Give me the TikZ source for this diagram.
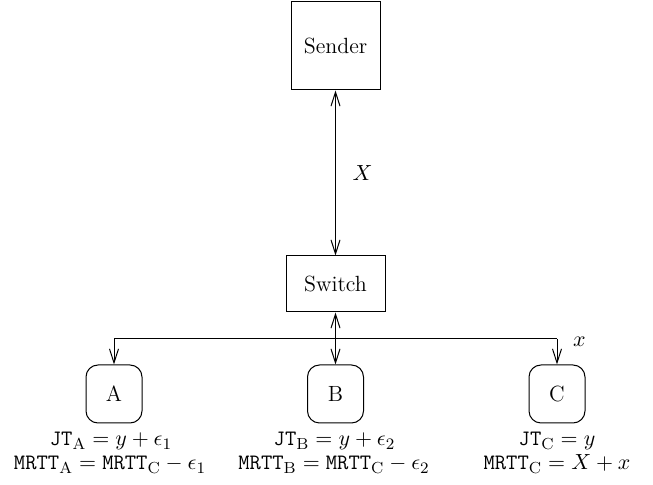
\documentclass[tikz,border=0pt]{standalone}
\usetikzlibrary{arrows.meta}
\begin{document}
\begin{tikzpicture}[x=0.5pt,y=-0.5pt,
  line width=0.5pt,
  font=\fontsize{11}{13}\selectfont,
  barb/.style={-{Straight Barb[length=7pt,width=4.5pt]}},
  dbarb/.style={{Straight Barb[length=7pt,width=4.5pt]}-{Straight Barb[length=7pt,width=4.5pt]}},
  squarebox/.style={draw,rectangle,minimum width=44.5pt,minimum height=44pt,inner sep=0pt},
  switchbox/.style={draw,rectangle,minimum width=49.5pt,minimum height=28pt,inner sep=0pt},
  hostbox/.style={draw,rectangle,rounded corners=6pt,minimum width=28pt,minimum height=29pt,inner sep=0pt},
  metrics/.style={anchor=base,inner sep=0pt}]
  \useasboundingbox (0,0) rectangle (653,485);

  % boxes
  \node[squarebox] (sender) at (335.5,46) {Sender};
  \node[switchbox] (switch) at (335.5,284) {Switch};
  \node[hostbox] (A) at (114,394) {A};
  \node[hostbox] (B) at (335.5,394) {B};
  \node[hostbox] (C) at (557,394) {C};

  % sender <-> switch
  \draw[dbarb] (sender.south) -- node[right=5pt] {$X$} (switch.north);

  % switch to hosts
  \coordinate (jun) at (335.5,339);
  \draw[dbarb] (switch.south) -- (B.north);
  \coordinate (ja) at (A.north |- jun);
  \coordinate (jc) at (C.north |- jun);
  \draw[barb] (ja) -- (A.north);
  \draw[barb] (jc) -- (C.north);
  \draw (ja) -- (jc);
  \node[anchor=west] (xl) at (566,342) {$x$};

  % per-host metrics
  \node[metrics] (jta) at (111,446) {$\texttt{JT}_\mathrm{A} = y + \epsilon_1$};
  \node[metrics] (mra) at (110,470) {$\texttt{MRTT}_\mathrm{A} = \texttt{MRTT}_\mathrm{C} - \epsilon_1$};
  \node[metrics] (jtb) at (334.5,446) {$\texttt{JT}_\mathrm{B} = y + \epsilon_2$};
  \node[metrics] (mrb) at (334,470) {$\texttt{MRTT}_\mathrm{B} = \texttt{MRTT}_\mathrm{C} - \epsilon_2$};
  \node[metrics] (jtc) at (557,446) {$\texttt{JT}_\mathrm{C} = y$};
  \node[metrics] (mrc) at (557,470) {$\texttt{MRTT}_\mathrm{C} = X + x$};
\end{tikzpicture}
\end{document}
